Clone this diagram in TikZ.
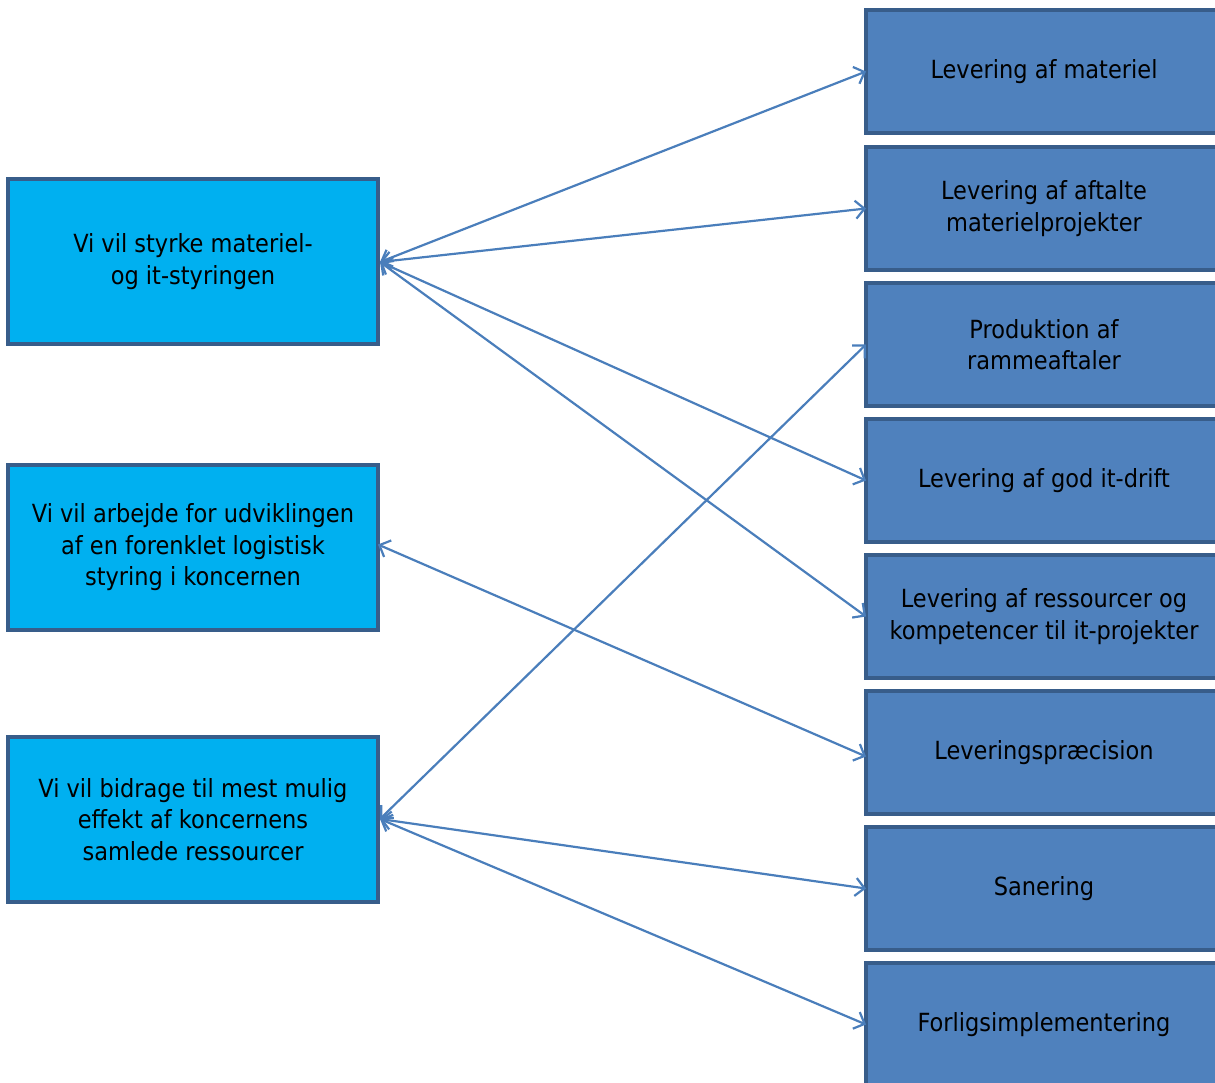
\documentclass[tikz,border=0pt]{standalone}
\usepackage{fontspec}
\setmainfont{DejaVu Sans Condensed}
\usetikzlibrary{arrows.meta}
\definecolor{lfill}{HTML}{00B0F0}
\definecolor{rfill}{HTML}{4F81BD}
\definecolor{bord}{HTML}{385D8A}
\definecolor{conn}{HTML}{4A7EBB}
\begin{document}
\begin{tikzpicture}[x=1pt,y=-1pt,
  lbox/.style={draw=bord,fill=lfill,line width=3.5pt,outer sep=0pt,minimum width=370pt,minimum height=165pt,inner sep=0pt,align=center,font=\fontsize{25}{31.5}\selectfont,anchor=north west},
  rbox/.style={draw=bord,fill=rfill,line width=3.5pt,outer sep=0pt,minimum width=356pt,minimum height=123pt,inner sep=0pt,align=center,font=\fontsize{25}{31.5}\selectfont,anchor=north west},
  link/.style={draw=conn,line width=2.2pt,{Straight Barb[length=9pt,width=18pt]}-{Straight Barb[length=9pt,width=18pt]}}]
\useasboundingbox (0,0) rectangle (1215,1082);
\clip (0,0) rectangle (1215,1082);
\node[lbox] (l1) at (8,179) {Vi vil styrke materiel-\\og it-styringen};
\node[lbox] (l2) at (8,465) {Vi vil arbejde for udviklingen\\af en forenklet logistisk\\styring i koncernen};
\node[lbox] (l3) at (8,737) {Vi vil bidrage til mest mulig\\effekt af koncernens\\samlede ressourcer};
\node[rbox] (r1) at (866,10) {Levering af materiel};
\node[rbox] (r2) at (866,147) {Levering af aftalte\\materielprojekter};
\node[rbox] (r3) at (866,283) {Produktion af\\rammeaftaler};
\node[rbox] (r4) at (866,419) {Levering af god it-drift};
\node[rbox] (r5) at (866,555) {Levering af ressourcer og\\kompetencer til it-projekter};
\node[rbox] (r6) at (866,691) {Leveringspræcision};
\node[rbox] (r7) at (866,827) {Sanering};
\node[rbox] (r8) at (866,963) {Forligsimplementering};
\coordinate (a1) at (380,262);
\coordinate (a3) at (380,819);
\draw[link] (a1) -- (r1.west);
\draw[link] (a1) -- (r2.west);
\draw[link] (a1) -- (r4.west);
\draw[link] (a1) -- (r5.west);
\draw[link] ([yshift=3pt]l2.east) -- ([yshift=-4pt]r6.west);
\draw[link] (a3) -- (r3.west);
\draw[link] (a3) -- (r7.west);
\draw[link] (a3) -- (r8.west);
\end{tikzpicture}
\end{document}
